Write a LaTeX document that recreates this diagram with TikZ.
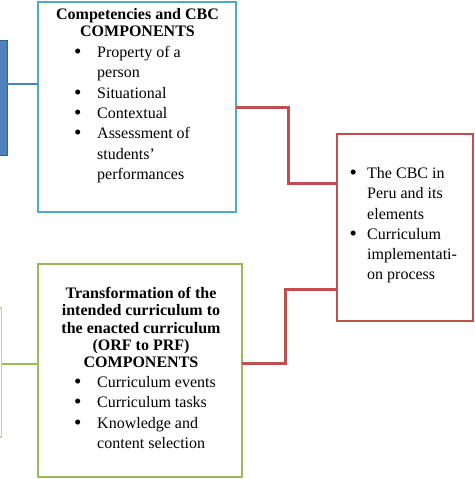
\documentclass[tikz,border=0pt]{standalone}
\usepackage{fontspec}
\setmainfont{Liberation Serif}
\usepackage{xcolor}
\usetikzlibrary{positioning, calc}
\definecolor{cbcblue}{HTML}{4BACC6}
\definecolor{darkblue}{HTML}{4F81BD}
\definecolor{edgeblue}{HTML}{385D8A}
\definecolor{cbcgreen}{HTML}{9BBB59}
\definecolor{palegreen}{HTML}{C3D1A3}
\definecolor{cbcred}{HTML}{C0504D}
\newcommand{\bigbul}{\raisebox{-1.2pt}{\fontsize{21}{21}\selectfont\textbullet}}
\newcommand{\itm}[2][22pt]{\makebox[#1][l]{\hspace*{-1pt}\bigbul}#2}
\newcommand{\cnt}[2][22pt]{\hspace*{#1}#2}

\begin{document}
\begin{tikzpicture}[x=1pt, y=-1pt,
  box/.style={draw, line width=2.6pt, outer sep=0pt, inner sep=0pt},
  head/.style={font=\fontsize{16}{17.2}\selectfont\bfseries, align=center,
               inner sep=0pt, anchor=north},
  items/.style={font=\fontsize{16}{20.3}\selectfont, align=left,
                inner sep=0pt, anchor=north west},
  link/.style={line width=2.6pt},
]
  \path[use as bounding box, clip] (0,0) rectangle (474,479);

  % boxes cut off at the left edge
  \node[box, fill=darkblue, draw=edgeblue, line width=1pt,
        minimum width=10pt, minimum height=115pt] (side) at (2,97.5) {};
  \node[box, draw=palegreen, line width=1.5pt,
        minimum width=31.5pt, minimum height=129pt] (sidegreen) at (-14.25,372.5) {};

  % Competencies
  \node[box, draw=cbcblue, minimum width=198pt, minimum height=210pt] (comp) at (137,107) {};
  \node[head] (comphead) at (137.5,8.2) {Competencies and CBC\\COMPONENTS};
  \node[items] (complist) at (75,46.1)
       {\itm{Property of a}\\\cnt{person}\\\itm{Situational}\\\itm{Contextual}\\
        \itm{Assessment of}\\\cnt{students'}\\\cnt{performances}};

  % Transformation
  \node[box, draw=cbcgreen, minimum width=204pt, minimum height=213pt] (trans) at (140,370.5) {};
  \node[head] (transhead) at (141,287.2)
       {Transformation of the\\intended curriculum to\\the enacted curriculum\\
        (ORF to PRF)\\COMPONENTS};
  \node[items] (translist) at (75,376.1)
       {\itm{Curriculum events}\\\itm{Curriculum tasks}\\\itm{Knowledge and}\\
        \cnt{content selection}};

  % CBC in Peru
  \node[box, draw=cbcred, minimum width=136pt, minimum height=187pt] (cbc) at (405,227.5) {};
  \node[items] (cbclist) at (350.5,167.1)
       {\itm[16.5pt]{The CBC in}\\\cnt[16.5pt]{Peru and its}\\\cnt[16.5pt]{elements}\\
        \itm[16.5pt]{Curriculum}\\\cnt[16.5pt]{implementati-}\\\cnt[16.5pt]{on process}};

  % Connections
  \draw[link, draw=darkblue] ([yshift=13.5pt]side.east) -- ([yshift=13.5pt]side.east -| comp.west);
  \draw[link, draw=cbcgreen] ([yshift=8.5pt]sidegreen.east) -- ([yshift=8.5pt]sidegreen.east -| trans.west);
  \draw[link, draw=cbcred, line width=3pt] (comp.east) -- ++(52,0) |- ([yshift=44.5pt]cbc.west);
  \draw[link, draw=cbcred, line width=3pt] ([yshift=7.5pt]trans.east) -- ++(43,0) |- ([yshift=-61.5pt]cbc.west);
\end{tikzpicture}
\end{document}
